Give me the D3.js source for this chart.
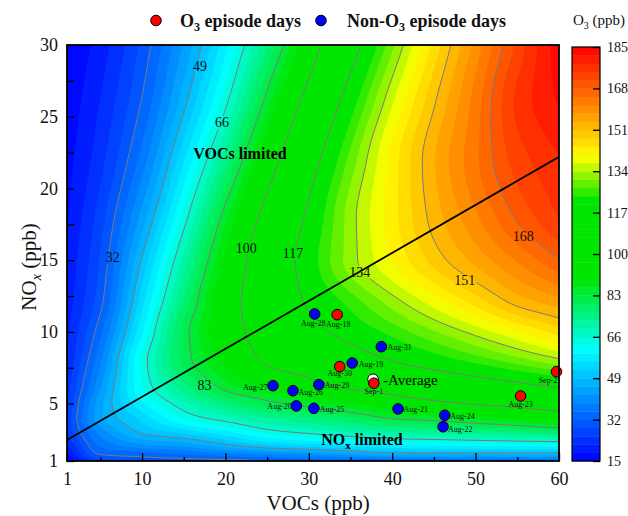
<!DOCTYPE html>
<html>
<head>
<meta charset="utf-8">
<script src="https://cdn.jsdelivr.net/npm/d3@7"></script>
<style>
  body { margin: 0; background: #fff; }
  text { font-family: "Liberation Serif", "Times New Roman", serif; }
</style>
</head>
<body>
<svg id="chart" width="628" height="516"></svg>
<script>
// ---------------- data ----------------
// O3 isopleth surface (ppb) sampled on a VOC x NOx grid; rows follow noxLevels, columns follow vocLevels
const vocLevels = [1, 5, 10, 15, 20, 25, 30, 35, 40, 45, 50, 55, 60];
const noxLevels = [1, 1.5, 2, 3, 4, 5, 6, 8, 10, 12, 15, 18, 22, 26, 30];
const o3Grid = [
  [15, 27, 29.5, 30, 30.5, 31, 31.5, 32, 32.5, 33, 33.5, 34, 34.5],            // NOx 1
  [18, 32.5, 34, 35.8, 38, 40.5, 42.4, 44.8, 47.5, 48, 48, 48, 48],           // NOx 1.5
  [21, 35.5, 40, 42.2, 46.5, 50.6, 52.7, 55, 57.3, 58, 58.5, 59, 59.1],       // NOx 2
  [26, 40, 49.5, 53.5, 58.1, 64, 67, 69.6, 72.2, 73.1, 74.4, 75.9, 77.9],     // NOx 3
  [26, 44.9, 53.6, 63.1, 68.3, 73, 76.1, 79.1, 83.6, 85.4, 87.8, 90.6, 93.8], // NOx 4
  [25, 44.4, 58.5, 68.6, 76, 81.3, 85.2, 89.3, 94.5, 97.9, 100.6, 103.1, 106],// NOx 5
  [24, 42.1, 62.3, 74, 83.6, 89.1, 94.6, 100.1, 103.2, 106.4, 109.5, 112.7, 115.9], // NOx 6
  [22, 38.3, 63.5, 80.6, 91, 101.3, 106.5, 111.8, 117.1, 121.1, 125, 129, 133],     // NOx 8
  [21, 34.5, 58.9, 80.9, 94.8, 105.2, 113.7, 120.1, 125.1, 130.2, 135.3, 140.5, 145.8], // NOx 10
  [20, 31, 54.8, 76.9, 94.8, 107.5, 118, 125, 132, 138.7, 145.3, 152, 156],   // NOx 12
  [19, 29, 49.4, 70.8, 91.1, 107.6, 121.1, 132.4, 140.9, 148.9, 155.5, 161.6, 167.6], // NOx 15
  [18, 27, 43.6, 64, 85.3, 103.4, 118.6, 132.4, 142.8, 152.5, 160.6, 168.6, 175],     // NOx 18
  [17, 24, 37, 55.4, 74.7, 94.7, 112.5, 128.4, 142.2, 154.1, 163.9, 173, 178],        // NOx 22
  [16, 22, 32.4, 47.7, 65, 85, 103.9, 121.3, 137, 150.5, 162.8, 175.6, 182],          // NOx 26
  [15, 20, 29.5, 42.6, 58, 75.6, 94.6, 112.7, 129.7, 145.2, 159.2, 172.4, 184]        // NOx 30
];
const contourLevels = [32, 49, 66, 83, 100, 117, 134, 151, 168];
const colorTicks = [15, 32, 49, 66, 83, 100, 117, 134, 151, 168, 185];
const xTicks = [1, 10, 20, 30, 40, 50, 60];
const xMinorTicks = [5, 15, 25, 35, 45, 55];
const yTicks = [1, 5, 10, 15, 20, 25, 30];
const yMinorTicks = [7.5, 12.5, 17.5, 22.5, 27.5];

// Observed days (VOCs, NOx in ppb)
const episodeDays = [
  { date: "Aug-18", voc: 33.4, nox: 11.2 },
  { date: "Aug-30", voc: 33.7, nox: 7.58 },
  { date: "Sep-1",  voc: 37.8, nox: 6.42 },
  { date: "Aug-23", voc: 55.4, nox: 5.53 },
  { date: "Sep-2",  voc: 59.7, nox: 7.23 }
];
const nonEpisodeDays = [
  { date: "Aug-28", voc: 30.7, nox: 11.25 },
  { date: "Aug-31", voc: 38.7, nox: 8.97 },
  { date: "Aug-19", voc: 35.2, nox: 7.83 },
  { date: "Aug-27", voc: 25.7, nox: 6.25 },
  { date: "Aug-26", voc: 28.1, nox: 5.9 },
  { date: "Aug-29", voc: 31.2, nox: 6.32 },
  { date: "Aug-20", voc: 28.5, nox: 4.84 },
  { date: "Aug-25", voc: 30.6, nox: 4.67 },
  { date: "Aug-21", voc: 40.7, nox: 4.63 },
  { date: "Aug-24", voc: 46.3, nox: 4.19 },
  { date: "Aug-22", voc: 46.1, nox: 3.39 }
];
const averageDay = { voc: 37.7, nox: 6.7 };
// Ridge line separating the VOC- and NOx-limited regimes
const ridgeLine = [[1, 2.46], [60, 22.2]];

// ---------------- layout / styles ----------------
const W = 628, H = 516;
const plot = { left: 67, right: 559, top: 45, bottom: 461 };
const cbar = { left: 572, width: 28, top: 47, bottom: 461 };
const labelOffsets = { // dx, dy from marker centre, text-anchor
  "Aug-28": [-1.5, 12, "middle"], "Aug-18": [1, 12, "middle"], "Aug-31": [6, 3.5, "start"],
  "Aug-30": [0, 9.5, "middle"], "Aug-19": [6.5, 3.5, "start"], "Sep-1": [0, 10.5, "middle"],
  "Aug-27": [-5.5, 4, "end"], "Aug-26": [5.5, 4, "start"], "Aug-29": [6, 3.5, "start"],
  "Aug-20": [-4.5, 3.5, "end"], "Aug-25": [6, 3.5, "start"], "Aug-21": [5.5, 3.5, "start"],
  "Aug-24": [5.5, 3.5, "start"], "Aug-22": [5, 5.5, "start"], "Aug-23": [0, 10.5, "middle"],
  "Sep-2": [-8.5, 11.5, "middle"]
};
const contourLabelSpots = [
  { level: 49, voc: 16.95, nox: 28.55 }, { level: 66, voc: 19.6, nox: 24.6 },
  { level: 32, voc: 6.5, nox: 15.2 },    { level: 100, voc: 22.5, nox: 15.85 },
  { level: 117, voc: 28.1, nox: 15.5 },  { level: 134, voc: 36.1, nox: 14.2 },
  { level: 151, voc: 48.7, nox: 13.6 },  { level: 168, voc: 55.7, nox: 16.7 },
  { level: 83, voc: 17.5, nox: 6.3 }
];

const colorOf = d3.scaleLinear()
  .domain([15, 38, 61, 90, 122, 140, 162, 185])
  .range(["#0000ff", "#0080ff", "#00ffff", "#00e600", "#00e600", "#ffff00", "#ff8000", "#ff0000"])
  .interpolate(d3.interpolateRgb)
  .clamp(true);

const x = d3.scaleLinear().domain([1, 60]).range([plot.left, plot.right]);
const y = d3.scaleLinear().domain([1, 30]).range([plot.bottom, plot.top]);

// Monotone cubic (Fritsch-Butland) interpolation on non-uniform knots
function monotone(xs, ys) {
  const n = xs.length, d = [], m = new Array(n);
  for (let i = 0; i < n - 1; i++) d.push((ys[i + 1] - ys[i]) / (xs[i + 1] - xs[i]));
  m[0] = d[0]; m[n - 1] = d[n - 2];
  for (let i = 1; i < n - 1; i++) {
    if (d[i - 1] * d[i] <= 0) m[i] = 0;
    else {
      const h0 = xs[i] - xs[i - 1], h1 = xs[i + 1] - xs[i];
      const w1 = 2 * h1 + h0, w2 = h1 + 2 * h0;
      m[i] = (w1 + w2) / (w1 / d[i - 1] + w2 / d[i]);
    }
  }
  return v => {
    let k = 0;
    while (k < n - 2 && v > xs[k + 1]) k++;
    const h = xs[k + 1] - xs[k], t = Math.max(0, Math.min(1, (v - xs[k]) / h));
    const t2 = t * t, t3 = t2 * t;
    return (2 * t3 - 3 * t2 + 1) * ys[k] + (t3 - 2 * t2 + t) * h * m[k] +
           (-2 * t3 + 3 * t2) * ys[k + 1] + (t3 - t2) * h * m[k + 1];
  };
}

// Resample the surface on a fine grid for d3.contours
const nx = 246, ny = 208;
const columnFns = vocLevels.map((_, ci) => monotone(noxLevels, noxLevels.map((_, ri) => o3Grid[ri][ci])));
const field = new Float64Array(nx * ny);
for (let j = 0; j < ny; j++) {
  const nox = 30 - (j + 0.5) * 29 / ny;
  const rowFn = monotone(vocLevels, columnFns.map(f => f(nox)));
  for (let i = 0; i < nx; i++) field[j * nx + i] = rowFn(1 + (i + 0.5) * 59 / nx);
}
const gridPath = d3.geoPath(d3.geoTransform({
  point(px, py) { this.stream.point(x(1 + px * 59 / nx), y(30 - py * 29 / ny)); }
}));

const svg = d3.select("#chart");
const defs = svg.append("defs");
defs.append("clipPath").attr("id", "plotClip").append("rect")
  .attr("x", plot.left).attr("y", plot.top)
  .attr("width", plot.right - plot.left).attr("height", plot.bottom - plot.top);
const mask = defs.append("mask").attr("id", "labelMask").attr("maskUnits", "userSpaceOnUse")
  .attr("x", 0).attr("y", 0).attr("width", W).attr("height", H);
mask.append("rect").attr("width", W).attr("height", H).attr("fill", "#fff");

// ---- filled bands ----
const bandStep = 3.4;
const bandEdges = d3.range(50).map(i => 15 + i * bandStep);
const gBands = svg.append("g").attr("clip-path", "url(#plotClip)");
gBands.append("rect").attr("x", plot.left).attr("y", plot.top)
  .attr("width", plot.right - plot.left).attr("height", plot.bottom - plot.top)
  .attr("fill", colorOf(15 + bandStep / 2));
gBands.selectAll("path").data(d3.contours().size([nx, ny]).thresholds(bandEdges)(field))
  .join("path").attr("d", gridPath).attr("fill", d => colorOf(d.value + bandStep / 2));

// ---- isolines ----
const gIso = svg.append("g").attr("clip-path", "url(#plotClip)");
gIso.append("g").attr("mask", "url(#labelMask)")
  .selectAll("path").data(d3.contours().size([nx, ny]).thresholds(contourLevels)(field))
  .join("path").attr("d", gridPath).attr("fill", "none")
  .attr("stroke", "#7a7a7a").attr("stroke-width", 1);

const isoLabels = svg.append("g").selectAll("text").data(contourLabelSpots).join("text")
  .attr("x", d => x(d.voc)).attr("y", d => y(d.nox)).attr("dy", "0.35em")
  .attr("text-anchor", "middle").attr("font-size", 14).attr("fill", "#111")
  .text(d => d.level);
isoLabels.each(function () {
  const b = this.getBBox();
  mask.append("rect").attr("x", b.x - 1).attr("y", b.y + 1).attr("width", b.width + 2)
    .attr("height", b.height - 2).attr("fill", "#000");
});

// ---- ridge line ----
svg.append("path").attr("clip-path", "url(#plotClip)")
  .attr("d", d3.line().x(d => x(d[0])).y(d => y(d[1]))(ridgeLine))
  .attr("stroke", "#000").attr("stroke-width", 1.8).attr("fill", "none");

// ---- regime labels ----
svg.append("text").attr("x", 240).attr("y", 159).attr("text-anchor", "middle")
  .attr("font-size", 16).attr("font-weight", "bold").text("VOCs limited");
const noxLab = svg.append("text").attr("x", 362).attr("y", 444.5).attr("text-anchor", "middle")
  .attr("font-size", 16).attr("font-weight", "bold");
noxLab.append("tspan").text("NO");
noxLab.append("tspan").attr("font-size", 11).attr("dy", 4).text("x");
noxLab.append("tspan").attr("dy", -4).text(" limited");

// ---- points ----
const gPts = svg.append("g");
function drawDays(days, fill) {
  gPts.selectAll(null).data(days).join("circle")
    .attr("cx", d => x(d.voc)).attr("cy", d => y(d.nox)).attr("r", 5.3)
    .attr("fill", fill).attr("stroke", "#000").attr("stroke-width", 1);
  gPts.selectAll(null).data(days).join("text")
    .attr("x", d => x(d.voc) + labelOffsets[d.date][0])
    .attr("y", d => y(d.nox) + labelOffsets[d.date][1])
    .attr("text-anchor", d => labelOffsets[d.date][2])
    .attr("font-size", 8).attr("fill", "#111").text(d => d.date);
}
gPts.append("circle").attr("cx", x(averageDay.voc)).attr("cy", y(averageDay.nox)).attr("r", 5.3)
  .attr("fill", "#fff").attr("stroke", "#000").attr("stroke-width", 1);
gPts.append("text").attr("x", x(averageDay.voc) + 10).attr("y", y(averageDay.nox) + 5.5)
  .attr("font-size", 15).text("-Average");
drawDays(nonEpisodeDays, "#0000ff");
drawDays(episodeDays, "#ff0000");

// ---- frame ----
svg.append("rect").attr("x", plot.left).attr("y", plot.top)
  .attr("width", plot.right - plot.left).attr("height", plot.bottom - plot.top)
  .attr("fill", "none").attr("stroke", "#000").attr("stroke-width", 1.8);

// ---- axes ----
function styleAxis(g, size) {
  g.select(".domain").remove();
  g.selectAll("text").attr("font-family", '"Liberation Serif", "Times New Roman", serif')
    .attr("font-size", size).attr("fill", "#111");
  g.selectAll("line").attr("stroke-width", 1.3);
}
svg.append("g").attr("transform", `translate(0,${plot.bottom})`)
  .call(d3.axisBottom(x).tickValues(xTicks).tickSize(-8).tickPadding(11).tickFormat(d3.format("d")))
  .call(g => styleAxis(g, 18));
svg.append("g").attr("transform", `translate(0,${plot.bottom})`)
  .call(d3.axisBottom(x).tickValues(xMinorTicks).tickSize(-4).tickFormat(""))
  .call(g => styleAxis(g, 18));
svg.append("g").attr("transform", `translate(${plot.left},0)`)
  .call(d3.axisLeft(y).tickValues(yTicks).tickSize(-7).tickPadding(9).tickFormat(d3.format("d")))
  .call(g => styleAxis(g, 18));
svg.append("g").attr("transform", `translate(${plot.left},0)`)
  .call(d3.axisLeft(y).tickValues(yMinorTicks).tickSize(-7).tickFormat(""))
  .call(g => styleAxis(g, 18));

svg.append("text").attr("x", 318).attr("y", 510).attr("text-anchor", "middle")
  .attr("font-size", 21).attr("fill", "#111").text("VOCs (ppb)");
const yTitle = svg.append("text").attr("transform", "translate(36,267) rotate(-90)")
  .attr("text-anchor", "middle").attr("font-size", 21).attr("fill", "#111");
yTitle.append("tspan").text("NO");
yTitle.append("tspan").attr("font-size", 14).attr("font-style", "italic").attr("dy", 5).text("x");
yTitle.append("tspan").attr("dy", -5).text(" (ppb)");

// ---- colour bar ----
const cb = d3.scaleLinear().domain([15, 185]).range([cbar.bottom, cbar.top]);
const gCb = svg.append("g");
gCb.selectAll("rect").data(bandEdges).join("rect")
  .attr("x", cbar.left).attr("width", cbar.width)
  .attr("y", d => cb(d + bandStep)).attr("height", d => cb(d) - cb(d + bandStep) + 0.4)
  .attr("fill", d => colorOf(d + bandStep / 2));
gCb.append("rect").attr("x", cbar.left).attr("y", cbar.top).attr("width", cbar.width)
  .attr("height", cbar.bottom - cbar.top).attr("fill", "none").attr("stroke", "#000").attr("stroke-width", 1.2);
svg.append("g").attr("transform", `translate(${cbar.left + cbar.width},0)`)
  .call(d3.axisRight(cb).tickValues(colorTicks).tickSize(-7).tickPadding(7).tickFormat(d3.format("d")))
  .call(g => styleAxis(g, 14));
const cbTitle = svg.append("text").attr("x", 573).attr("y", 25).attr("font-size", 15).attr("fill", "#111");
cbTitle.append("tspan").text("O");
cbTitle.append("tspan").attr("font-size", 10).attr("dy", 4).text("3");
cbTitle.append("tspan").attr("dy", -4).text(" (ppb)");

// ---- legend ----
const legendItems = [
  { label: "episode days", prefix: "", fill: "#ff0000", cx: 156, tx: 180 },
  { label: "episode days", prefix: "Non-", fill: "#0000ff", cx: 321, tx: 347 }
];
legendItems.forEach(it => {
  svg.append("circle").attr("cx", it.cx).attr("cy", 20.5).attr("r", 5.3)
    .attr("fill", it.fill).attr("stroke", "#000").attr("stroke-width", 1);
  const t = svg.append("text").attr("x", it.tx).attr("y", 26.5).attr("font-size", 18)
    .attr("font-weight", "bold").attr("fill", "#111");
  t.append("tspan").text(it.prefix + "O");
  t.append("tspan").attr("font-size", 12).attr("dy", 4).text("3");
  t.append("tspan").attr("dy", -4).text(" " + it.label);
});
</script>
</body>
</html>
